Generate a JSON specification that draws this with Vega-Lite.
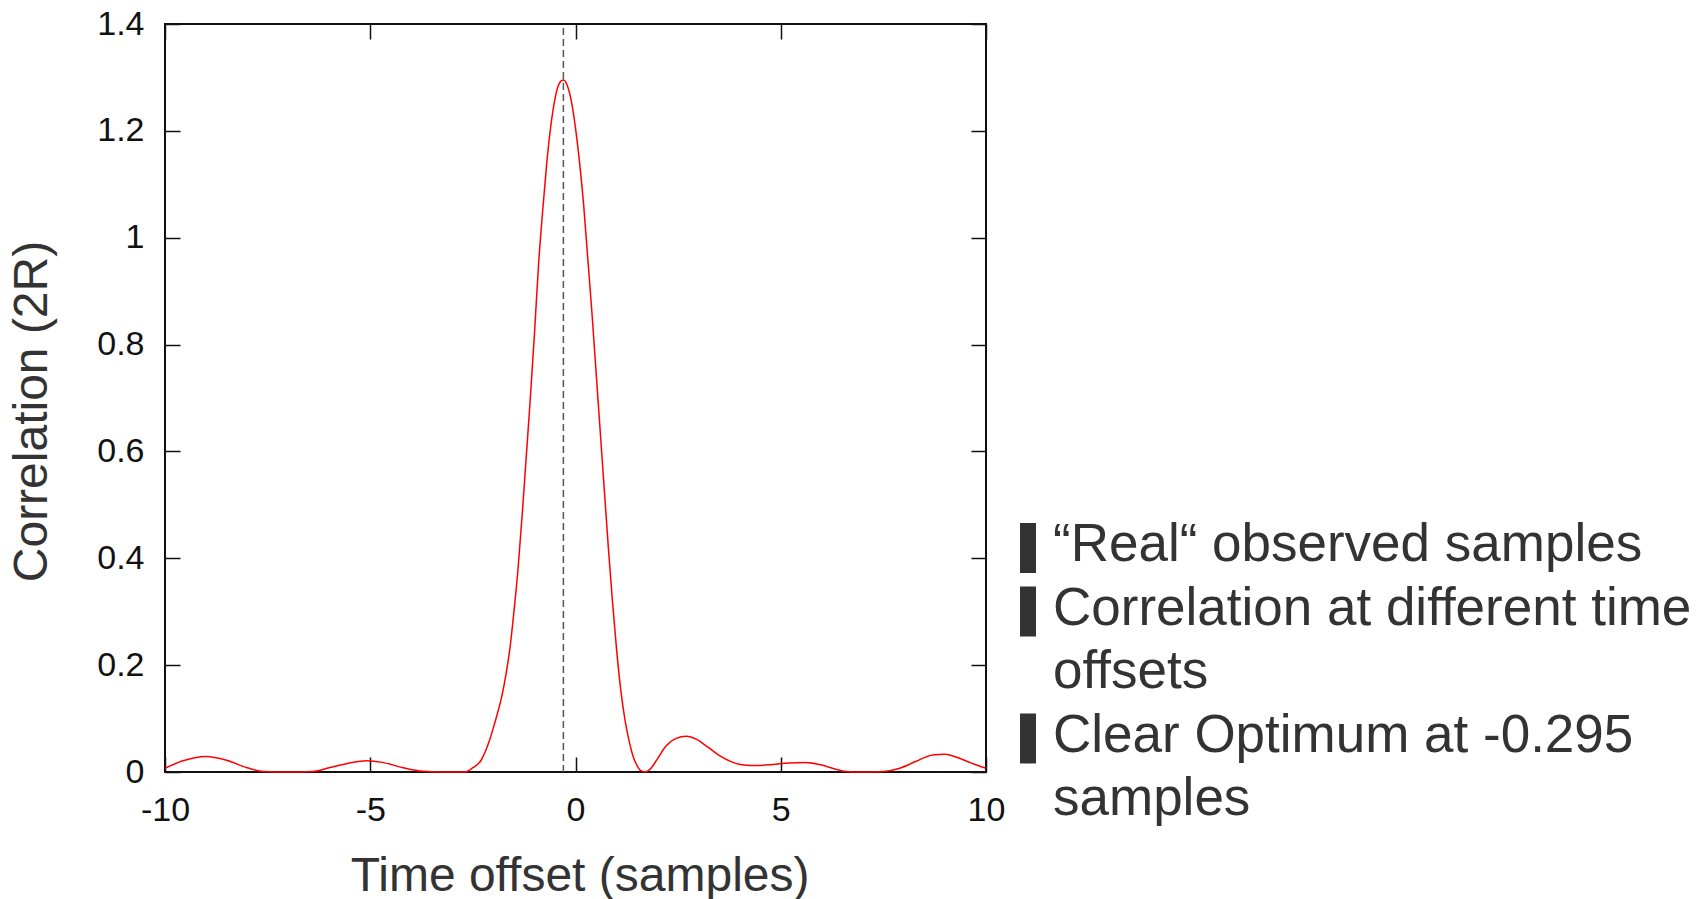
{
  "$schema": "https://vega.github.io/schema/vega-lite/v6.json",
  "width": 821,
  "height": 748,
  "autosize": {"type": "none"},
  "padding": {"left": 165, "top": 24, "right": 721, "bottom": 127},
  "background": "white",
  "config": {
    "view": {"stroke": "#111", "strokeWidth": 2},
    "font": "Liberation Sans",
    "axis": {
      "domain": false,
      "grid": false,
      "tickSize": -15,
      "tickColor": "#111",
      "tickWidth": 1.5,
      "labelFont": "Liberation Sans",
      "labelFontSize": 34,
      "labelColor": "#111",
      "labelFlush": false,
      "labelOverlap": false,
      "titleFont": "Liberation Sans",
      "titleFontSize": 48,
      "titleColor": "#333",
      "titleFontWeight": "normal"
    }
  },
  "datasets": {
    "curve": [
      {"offset": -10.0, "corr": 0.007},
      {"offset": -9.6, "corr": 0.020},
      {"offset": -9.0, "corr": 0.029},
      {"offset": -8.5, "corr": 0.022},
      {"offset": -8.0, "corr": 0.008},
      {"offset": -7.6, "corr": 0.001},
      {"offset": -7.0, "corr": 0.0},
      {"offset": -6.4, "corr": 0.001},
      {"offset": -6.0, "corr": 0.008},
      {"offset": -5.5, "corr": 0.017},
      {"offset": -5.1, "corr": 0.021},
      {"offset": -4.7, "corr": 0.018},
      {"offset": -4.2, "corr": 0.008},
      {"offset": -3.8, "corr": 0.002},
      {"offset": -3.2, "corr": 0.0},
      {"offset": -2.7, "corr": 0.0},
      {"offset": -2.5, "corr": 0.008},
      {"offset": -2.3, "corr": 0.022},
      {"offset": -2.2, "corr": 0.038},
      {"offset": -2.1, "corr": 0.058},
      {"offset": -2.0, "corr": 0.083},
      {"offset": -1.9, "corr": 0.11},
      {"offset": -1.8, "corr": 0.14},
      {"offset": -1.7, "corr": 0.18},
      {"offset": -1.6, "corr": 0.23},
      {"offset": -1.5, "corr": 0.30},
      {"offset": -1.4, "corr": 0.38},
      {"offset": -1.3, "corr": 0.48},
      {"offset": -1.2, "corr": 0.59},
      {"offset": -1.1, "corr": 0.70},
      {"offset": -1.0, "corr": 0.82},
      {"offset": -0.9, "corr": 0.95},
      {"offset": -0.8, "corr": 1.05},
      {"offset": -0.7, "corr": 1.14},
      {"offset": -0.6, "corr": 1.21},
      {"offset": -0.5, "corr": 1.26},
      {"offset": -0.4, "corr": 1.288},
      {"offset": -0.3, "corr": 1.295},
      {"offset": -0.2, "corr": 1.285},
      {"offset": -0.1, "corr": 1.255},
      {"offset": 0.0, "corr": 1.205},
      {"offset": 0.1, "corr": 1.14},
      {"offset": 0.2, "corr": 1.06},
      {"offset": 0.3, "corr": 0.96},
      {"offset": 0.4, "corr": 0.86},
      {"offset": 0.5, "corr": 0.75},
      {"offset": 0.6, "corr": 0.64},
      {"offset": 0.7, "corr": 0.53},
      {"offset": 0.8, "corr": 0.42},
      {"offset": 0.9, "corr": 0.32},
      {"offset": 1.0, "corr": 0.23},
      {"offset": 1.1, "corr": 0.155},
      {"offset": 1.2, "corr": 0.10},
      {"offset": 1.3, "corr": 0.06},
      {"offset": 1.4, "corr": 0.03},
      {"offset": 1.5, "corr": 0.012},
      {"offset": 1.6, "corr": 0.002},
      {"offset": 1.7, "corr": 0.0},
      {"offset": 1.8, "corr": 0.004},
      {"offset": 2.0, "corr": 0.025},
      {"offset": 2.2, "corr": 0.048},
      {"offset": 2.45, "corr": 0.063},
      {"offset": 2.7, "corr": 0.067},
      {"offset": 2.95, "corr": 0.061},
      {"offset": 3.2, "corr": 0.048},
      {"offset": 3.5, "corr": 0.031},
      {"offset": 3.8, "corr": 0.019},
      {"offset": 4.1, "corr": 0.013},
      {"offset": 4.4, "corr": 0.012},
      {"offset": 4.8, "corr": 0.014},
      {"offset": 5.2, "corr": 0.017},
      {"offset": 5.6, "corr": 0.018},
      {"offset": 6.0, "corr": 0.013},
      {"offset": 6.3, "corr": 0.006},
      {"offset": 6.6, "corr": 0.001},
      {"offset": 7.0, "corr": 0.0},
      {"offset": 7.5, "corr": 0.001},
      {"offset": 7.9, "corr": 0.007},
      {"offset": 8.3, "corr": 0.02},
      {"offset": 8.7, "corr": 0.032},
      {"offset": 9.0, "corr": 0.033},
      {"offset": 9.3, "corr": 0.027},
      {"offset": 9.7, "corr": 0.015},
      {"offset": 10.0, "corr": 0.007}
    ],
    "optimum": [{"optimum": -0.295}],
    "notes": [
      {"line": 1, "text": "“Real“ observed samples", "bullet": true},
      {"line": 2, "text": "Correlation at different time", "bullet": true},
      {"line": 3, "text": "offsets", "bullet": false},
      {"line": 4, "text": "Clear Optimum at -0.295", "bullet": true},
      {"line": 5, "text": "samples", "bullet": false}
    ]
  },
  "layer": [
    {
      "data": {"name": "curve"},
      "mark": {"type": "line", "color": "#ff0000", "strokeWidth": 1.5, "interpolate": "monotone"},
      "encoding": {
        "x": {
          "field": "offset", "type": "quantitative",
          "scale": {"domain": [-10, 10], "nice": false, "zero": false},
          "axis": {
            "orient": "bottom",
            "values": [-10, -5, 0, 5, 10],
            "labelExpr": "'' + datum.value",
            "labelBaseline": "alphabetic",
            "labelPadding": 63,
            "title": "Time offset (samples)",
            "titleX": 414.6,
            "titleY": 118,
            "titleAlign": "center",
            "titleBaseline": "alphabetic"
          }
        },
        "y": {
          "field": "corr", "type": "quantitative",
          "scale": {"domain": [0, 1.4], "nice": false},
          "axis": {
            "orient": "left",
            "values": [0, 0.2, 0.4, 0.6, 0.8, 1, 1.2, 1.4],
            "labelExpr": "'' + datum.value",
            "labelAlign": "right",
            "labelBaseline": "middle",
            "labelPadding": 36,
            "title": "Correlation (2R)",
            "titleX": -119,
            "titleY": 387,
            "titleAngle": 270,
            "titleAlign": "center",
            "titleBaseline": "alphabetic"
          }
        }
      }
    },
    {
      "data": {"name": "optimum"},
      "mark": {"type": "rule", "color": "#555", "strokeWidth": 1.5, "strokeDash": [7, 4]},
      "encoding": {
        "x": {
          "field": "optimum", "type": "quantitative",
          "scale": {"domain": [-10, 10], "nice": false, "zero": false},
          "axis": {"orient": "top", "values": [-10, -5, 0, 5, 10], "labels": false, "title": null}
        },
        "y": {
          "datum": 0, "type": "quantitative",
          "scale": {"domain": [0, 1.4], "nice": false},
          "axis": {"orient": "right", "values": [0, 0.2, 0.4, 0.6, 0.8, 1, 1.2, 1.4], "labels": false, "title": null}
        },
        "y2": {"datum": 1.4}
      }
    },
    {
      "data": {"name": "notes"},
      "mark": {"type": "text", "align": "left", "baseline": "alphabetic", "fontSize": 53, "color": "#333", "font": "Liberation Sans"},
      "encoding": {
        "x": {"datum": "label", "type": "nominal", "scale": {"type": "point", "domain": ["bullet", "label"], "range": [863, 888], "padding": 0}, "axis": null},
        "y": {"field": "line", "type": "ordinal", "scale": {"type": "point", "domain": [1, 2, 3, 4, 5], "range": [537, 791], "padding": 0}, "axis": null},
        "text": {"field": "text", "type": "nominal"}
      }
    },
    {
      "data": {"name": "notes"},
      "transform": [{"filter": "datum.bullet"}],
      "mark": {"type": "tick", "orient": "vertical", "thickness": 16, "size": 50, "yOffset": -13, "color": "#333", "opacity": 1},
      "encoding": {
        "x": {"datum": "bullet", "type": "nominal", "scale": {"type": "point", "domain": ["bullet", "label"], "range": [863, 888], "padding": 0}, "axis": null},
        "y": {"field": "line", "type": "ordinal", "scale": {"type": "point", "domain": [1, 2, 3, 4, 5], "range": [537, 791], "padding": 0}, "axis": null}
      }
    }
  ],
  "resolve": {
    "scale": {"x": "independent", "y": "independent"},
    "axis": {"x": "independent", "y": "independent"}
  }
}
